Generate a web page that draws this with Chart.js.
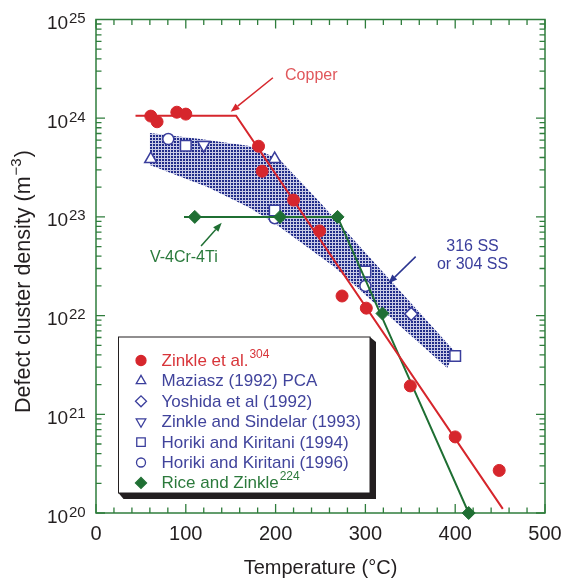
<!DOCTYPE html>
<html><head><meta charset="utf-8">
<script src="https://cdn.jsdelivr.net/npm/chart.js@4/dist/chart.umd.min.js"></script>
<style>html,body{margin:0;padding:0;background:#fff;}#wrap{width:563px;height:578px;}</style>
</head><body><div id="wrap"><canvas id="c" width="563" height="578"></canvas></div>
<script>
// ---- data (temperature °C, defect cluster density m^-3) ----
const xTickValues = [0, 100, 200, 300, 400, 500];
const yExponents = [20, 21, 22, 23, 24, 25];

const zinkleT = [61, 68, 90, 100, 181, 185, 220, 249, 274, 301, 350, 400, 449];
const zinkleN = [1.05e24, 9.2e23, 1.15e24, 1.1e24, 5.2e23, 2.9e23, 1.48e23, 7.2e22, 1.58e22, 1.19e22, 1.94e21, 5.9e20, 2.7e20];
const copperFitT = [44, 156, 453];
const copperFitN = [1.06e24, 1.06e24, 1.1e20];

const maziaszT = [61, 199];
const maziaszN = [3.86e23, 3.86e23];
const yoshidaT = [351];
const yoshidaN = [1.04e22];
const sindelarT = [120];
const sindelarN = [5.35e23];
const horiki94T = [100, 199, 300, 400];
const horiki94N = [5.26e23, 1.16e23, 2.79e22, 3.9e21];
const horiki96T = [80.5, 199, 300];
const horiki96N = [6.15e23, 9.7e22, 2.0e22];

const riceT = [110, 205, 269, 319, 415];
const riceN = [1e23, 1e23, 1e23, 1.05e22, 1e20];
const riceFitT = [98, 269, 415];
const riceFitN = [1e23, 1e23, 1e20];

// shaded 316/304 SS band (upper edge left→right, lower edge left→right)
const bandUpperT = [60, 116, 171, 205, 247, 400];
const bandUpperN = [7.08e23, 6.15e23, 5.23e23, 3.77e23, 1.48e23, 4.28e21];
const bandLowerT = [60, 124, 171.5, 201.6, 264, 391];
const bandLowerN = [3.36e23, 2.01e23, 1.23e23, 8.28e22, 3.18e22, 2.94e21];

// annotations (data coordinates)
const copperLabel = {text: 'Copper', t: 210.5, n: 2.44e24, arrow: [197, 2.57e24, 150, 1.16e24]};
const vLabel = {text: 'V-4Cr-4Ti', t: 60, n: 3.52e22, arrow: [117, 5.07e22, 140, 8.73e22]};
const ssLabel = {lines: ['316 SS', 'or 304 SS'], t: 419.3, n: [4.5e22, 2.94e22], arrow: [356, 3.96e22, 325.5, 2.12e22]};

const supLabels = ['304', '', '', '', '', '', '224'];

// ---- styles ----
const RED = '#d6262c', GREEN = '#1f6f33', BLUE = '#3a3e9c', BAND = '#222d8a', FRAME = '#2f7d3c';
const FONT = '"Liberation Sans", Arial, Helvetica, sans-serif';
const pts = (xs, ys) => xs.map((x, i) => ({x, y: ys[i]}));

const pc = document.createElement('canvas'); pc.width = 3; pc.height = 3;
const pctx = pc.getContext('2d');
pctx.fillStyle = '#c9cbe6'; pctx.fillRect(0, 0, 3, 3);
pctx.fillStyle = BAND; pctx.fillRect(0, 0, 2, 2);

const hollow = (label, xs, ys, style, r, rot) => ({
  type: 'line', label, data: pts(xs, ys), showLine: false, pointStyle: style,
  pointRadius: r, pointRotation: rot || 0, borderColor: BLUE, backgroundColor: '#fff',
  pointBorderWidth: 1.5, pointBackgroundColor: '#fff', pointBorderColor: BLUE, order: 5, clip: false
});

const datasets = [
  {type: 'line', label: 'Zinkle et al.', data: pts(zinkleT, zinkleN), showLine: false, pointStyle: 'circle',
   pointRadius: 6, pointBackgroundColor: RED, pointBorderColor: RED, backgroundColor: RED, borderColor: RED, order: 1, clip: false},
  hollow('Maziasz (1992) PCA', maziaszT, maziaszN, 'triangle', 7),
  hollow('Yoshida et al (1992)', yoshidaT, yoshidaN, 'rectRot', 6.5),
  hollow('Zinkle and Sindelar (1993)', sindelarT, sindelarN, 'triangle', 7, 180),
  hollow('Horiki and Kiritani (1994)', horiki94T, horiki94N, 'rect', 7.5),
  hollow('Horiki and Kiritani (1996)', horiki96T, horiki96N, 'circle', 5.5),
  {type: 'line', label: 'Rice and Zinkle', data: pts(riceT, riceN), showLine: false, pointStyle: 'rectRot',
   pointRadius: 6.5, pointBackgroundColor: GREEN, pointBorderColor: GREEN, backgroundColor: GREEN, borderColor: GREEN, order: 2, clip: false},
  {type: 'line', label: 'copperFit', data: pts(copperFitT, copperFitN), borderColor: RED, borderWidth: 2,
   pointRadius: 0, tension: 0, fill: false, order: 3},
  {type: 'line', label: 'riceFit', data: pts(riceFitT, riceFitN), borderColor: GREEN, borderWidth: 2,
   pointRadius: 0, tension: 0, fill: false, order: 3}
];

function arrow(ctx, x1, y1, x2, y2, color) {
  ctx.save();
  ctx.strokeStyle = color; ctx.fillStyle = color; ctx.lineWidth = 1.5;
  const a = Math.atan2(y2 - y1, x2 - x1), L = 9, W = 3.5;
  const bx = x2 - L * Math.cos(a), by = y2 - L * Math.sin(a);
  ctx.beginPath(); ctx.moveTo(x1, y1); ctx.lineTo(bx, by); ctx.stroke();
  ctx.beginPath(); ctx.moveTo(x2, y2);
  ctx.lineTo(bx + W * Math.sin(a), by - W * Math.cos(a));
  ctx.lineTo(bx - W * Math.sin(a), by + W * Math.cos(a));
  ctx.closePath(); ctx.fill();
  ctx.restore();
}

const custom = {
  id: 'custom',
  beforeDatasetsDraw(chart) {
    const {ctx, chartArea: ca, scales: {x, y}} = chart;
    // band
    ctx.save();
    ctx.beginPath(); ctx.rect(ca.left, ca.top, ca.right - ca.left, ca.bottom - ca.top); ctx.clip();
    ctx.beginPath();
    bandUpperT.forEach((t, i) => { const px = x.getPixelForValue(t), py = y.getPixelForValue(bandUpperN[i]); i ? ctx.lineTo(px, py) : ctx.moveTo(px, py); });
    for (let i = bandLowerT.length - 1; i >= 0; i--) ctx.lineTo(x.getPixelForValue(bandLowerT[i]), y.getPixelForValue(bandLowerN[i]));
    ctx.closePath();
    ctx.fillStyle = ctx.createPattern(pc, 'repeat');
    ctx.fill();
    ctx.restore();

    // frame + inward ticks
    ctx.save();
    ctx.strokeStyle = FRAME; ctx.lineWidth = 1.5;
    ctx.strokeRect(ca.left, ca.top, ca.right - ca.left, ca.bottom - ca.top);
    ctx.lineWidth = 1.3;
    ctx.beginPath();
    for (let t = 0; t <= 500; t += 20) {
      const px = x.getPixelForValue(t), len = t % 100 === 0 ? 9 : 5.5;
      ctx.moveTo(px, ca.bottom); ctx.lineTo(px, ca.bottom - len);
      ctx.moveTo(px, ca.top); ctx.lineTo(px, ca.top + len);
    }
    for (let e = 20; e < 25; e++) {
      for (let k = 1; k <= 9; k++) {
        const py = y.getPixelForValue(k * Math.pow(10, e)), len = k === 1 ? 9 : 5.5;
        ctx.moveTo(ca.left, py); ctx.lineTo(ca.left + len, py);
        ctx.moveTo(ca.right, py); ctx.lineTo(ca.right - len, py);
      }
    }
    ctx.stroke();
    ctx.restore();
  },
  afterDraw(chart) {
    const {ctx, chartArea: ca, scales: {x, y}} = chart;
    ctx.save();
    ctx.fillStyle = '#231f20'; ctx.textBaseline = 'alphabetic';
    // x tick labels
    ctx.font = '20px ' + FONT; ctx.textAlign = 'center';
    xTickValues.forEach(v => ctx.fillText(String(v), x.getPixelForValue(v), 540));
    // y tick labels with superscripts
    ctx.textAlign = 'left';
    yExponents.forEach(e => {
      const py = y.getPixelForValue(Math.pow(10, e));
      ctx.font = '19px ' + FONT;
      ctx.fillText('10', 47, py + 9.5);
      ctx.font = '15px ' + FONT;
      ctx.fillText(String(e), 69, py + 3.5);
    });
    // axis titles
    ctx.font = '20px ' + FONT; ctx.textAlign = 'center';
    ctx.fillText('Temperature (°C)', (ca.left + ca.right) / 2, 574);
    ctx.save();
    ctx.translate(29.5, 413); ctx.rotate(-Math.PI / 2);
    ctx.textAlign = 'left';
    ctx.font = '21.5px ' + FONT;
    ctx.fillText('Defect cluster density (m', 0, 0);
    let w = ctx.measureText('Defect cluster density (m').width;
    ctx.font = '15px ' + FONT;
    ctx.fillText('\u22123', w + 1, -8.5);
    let w2 = ctx.measureText('\u22123').width;
    ctx.font = '21.5px ' + FONT;
    ctx.fillText(')', w + w2 + 2, 0);
    ctx.restore();

    // annotations
    ctx.font = '16px ' + FONT; ctx.textAlign = 'left';
    ctx.fillStyle = '#e0575b';
    ctx.fillText(copperLabel.text, x.getPixelForValue(copperLabel.t), y.getPixelForValue(copperLabel.n));
    let a = copperLabel.arrow;
    arrow(ctx, x.getPixelForValue(a[0]), y.getPixelForValue(a[1]), x.getPixelForValue(a[2]), y.getPixelForValue(a[3]), RED);
    ctx.fillStyle = '#2a7a3c';
    ctx.fillText(vLabel.text, x.getPixelForValue(vLabel.t), y.getPixelForValue(vLabel.n));
    a = vLabel.arrow;
    arrow(ctx, x.getPixelForValue(a[0]), y.getPixelForValue(a[1]), x.getPixelForValue(a[2]), y.getPixelForValue(a[3]), GREEN);
    ctx.fillStyle = BLUE; ctx.textAlign = 'center';
    ssLabel.lines.forEach((s, i) => ctx.fillText(s, x.getPixelForValue(ssLabel.t), y.getPixelForValue(ssLabel.n[i])));
    a = ssLabel.arrow;
    arrow(ctx, x.getPixelForValue(a[0]), y.getPixelForValue(a[1]), x.getPixelForValue(a[2]), y.getPixelForValue(a[3]), '#2b3590');

    // legend box
    const L = 118.5, T = 337, R = 370, B = 493;
    ctx.fillStyle = '#231f20';
    ctx.beginPath();
    ctx.moveTo(R, T); ctx.lineTo(R + 6, T + 5); ctx.lineTo(R + 6, B + 6); ctx.lineTo(L + 5, B + 6); ctx.lineTo(L, B); ctx.closePath();
    ctx.fill();
    ctx.fillStyle = '#fff'; ctx.fillRect(L, T, R - L, B - T);
    ctx.strokeStyle = '#231f20'; ctx.lineWidth = 1; ctx.strokeRect(L, T, R - L, B - T);

    const colors = [RED, BLUE, BLUE, BLUE, BLUE, BLUE, GREEN];
    const textColors = ['#d8353a', '#41449c', '#41449c', '#41449c', '#41449c', '#41449c', '#2c7a3c'];
    const legendR = [5, 5.5, 5.5, 5.5, 6, 4.5, 5.5];
    for (let i = 0; i < 7; i++) {
      const ds = chart.data.datasets[i];
      const base = 366 + i * 20.4;
      const opts = {pointStyle: ds.pointStyle, radius: legendR[i], rotation: ds.pointRotation || 0, borderWidth: 1.3};
      ctx.save();
      ctx.strokeStyle = colors[i];
      ctx.fillStyle = (i === 0 || i === 6) ? colors[i] : '#fff';
      ctx.lineWidth = 1.3;
      Chart.helpers.drawPoint(ctx, opts, 141, base - 5.5);
      ctx.restore();
      ctx.fillStyle = textColors[i]; ctx.textAlign = 'left';
      ctx.font = '17px ' + FONT;
      ctx.fillText(ds.label, 161.5, base);
      if (supLabels[i]) {
        const tw = ctx.measureText(ds.label).width;
        ctx.font = '12px ' + FONT;
        ctx.fillText(supLabels[i], 161.5 + tw + 1, base - 8);
      }
    }
    ctx.restore();
  }
};

new Chart(document.getElementById('c'), {
  type: 'scatter',
  data: {datasets},
  options: {
    responsive: false, animation: false, devicePixelRatio: 1,
    layout: {padding: {left: 96, right: 18, top: 19.5, bottom: 0}},
    plugins: {legend: {display: false}, tooltip: {enabled: false}},
    scales: {
      x: {type: 'linear', min: 0, max: 500,
          ticks: {display: false, stepSize: 100},
          grid: {display: false, drawTicks: false}, border: {display: false},
          afterFit: s => { s.height = 65; }},
      y: {type: 'logarithmic', min: 1e20, max: 1e25, display: false}
    }
  },
  plugins: [custom]
});
</script></body></html>
